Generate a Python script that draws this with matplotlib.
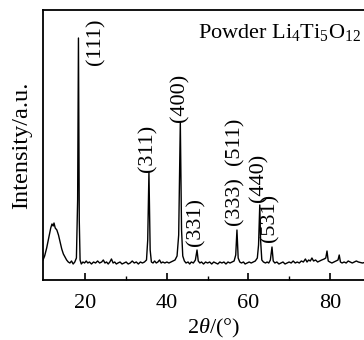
import matplotlib
matplotlib.use("Agg")
import matplotlib.pyplot as plt
from matplotlib.ticker import MultipleLocator, FixedLocator

plt.rcParams['font.family'] = ['Liberation Serif', 'DejaVu Serif']
plt.rcParams['mathtext.fontset'] = 'custom'
plt.rcParams['mathtext.rm'] = 'Liberation Serif'
plt.rcParams['mathtext.it'] = 'Liberation Serif:italic'

# XRD profile (2theta, intensity in arbitrary units)
two_theta = [9.6, 10.0, 10.5, 11.0, 11.5, 11.8, 12.1, 12.3, 12.6, 13.0, 13.4, 13.8, 14.2, 14.6, 15.0,
             15.4, 15.8, 16.2, 16.6, 17.0, 17.4, 17.8, 18.1, 18.3, 18.5, 18.7, 19.0, 19.4, 19.8, 20.2,
             20.6, 21.0, 21.5, 22.0, 22.5, 23.0, 23.5, 24.0, 24.4, 24.8, 25.2, 25.6, 26.0, 26.4, 26.8,
             27.2, 27.6, 28.0, 28.5, 29.0, 29.5, 30.0, 30.5, 31.0, 31.5, 32.0, 32.5, 33.0, 33.5, 34.0,
             34.5, 35.0, 35.3, 35.6, 35.9, 36.2, 36.6, 37.0, 37.4, 37.8, 38.2, 38.6, 39.0, 39.5, 40.0,
             40.5, 41.0, 41.5, 42.0, 42.5, 42.9, 43.3, 43.6, 43.9, 44.3, 44.7, 45.2, 45.6, 46.0, 46.5,
             47.0, 47.4, 47.7, 48.1, 48.5, 49.0, 49.5, 50.0, 50.5, 51.0, 51.5, 52.0, 52.5, 53.0, 53.5,
             54.0, 54.5, 55.0, 55.5, 56.0, 56.5, 56.9, 57.2, 57.5, 57.9, 58.3, 58.8, 59.2, 59.7, 60.2,
             60.7, 61.2, 61.7, 62.2, 62.5, 62.8, 63.0, 63.3, 63.7, 64.2, 64.6, 65.0, 65.4, 65.8, 66.1,
             66.5, 67.0, 67.5, 68.0, 68.5, 69.0, 69.5, 70.0, 70.5, 71.0, 71.5, 72.0, 72.5, 73.0, 73.5,
             74.0, 74.4, 74.8, 75.2, 75.6, 76.0, 76.5, 77.0, 77.5, 78.0, 78.6, 79.0, 79.3, 79.6, 80.0,
             80.5, 81.0, 81.5, 82.0, 82.3, 82.6, 83.0, 83.5, 84.0, 84.5, 85.0, 85.5, 86.0, 86.5, 87.0,
             88.0, 89.0, 90.0]
intensity = [20, 24, 32, 42, 52, 56, 54, 57, 52, 50, 45, 38, 31, 26, 23,
             20, 18, 17, 19, 16, 18, 22, 80, 242, 60, 20, 16, 18, 17, 19,
             17, 18, 16, 18, 17, 19, 17, 18, 20, 17, 18, 16, 18, 21, 17,
             18, 16, 17, 18, 16, 17, 18, 16, 17, 19, 17, 18, 16, 18, 17,
             18, 20, 40, 108, 30, 18, 17, 19, 17, 18, 20, 17, 18, 17, 18,
             17, 18, 19, 20, 24, 45, 158, 50, 24, 19, 17, 18, 16, 18, 17,
             20, 30, 19, 17, 18, 16, 18, 17, 18, 16, 18, 17, 16, 18, 17,
             18, 16, 18, 17, 18, 19, 25, 50, 22, 18, 17, 18, 16, 17, 18,
             17, 18, 19, 22, 35, 75, 40, 20, 18, 17, 18, 17, 20, 33, 19,
             17, 18, 16, 17, 18, 16, 17, 18, 17, 19, 17, 18, 17, 19, 18,
             21, 18, 20, 19, 22, 19, 20, 18, 19, 20, 21, 22, 29, 19, 18,
             17, 18, 19, 20, 25, 18, 17, 18, 17, 19, 18, 17, 18, 19, 18,
             17, 18, 17]

# Peak labels: (text, 2theta position, intensity position of label centre)
peak_labels = ['(111)', '(311)', '(400)', '(331)', '(333)', '(511)', '(440)', '(531)']
label_x = [22.6, 35.3, 43.3, 47.0, 56.7, 56.7, 62.6, 65.2]
label_y = [238, 132, 182, 58, 79, 139, 102, 62]
minor_ticks = [30, 50, 70]

fig = plt.figure(figsize=(3.64, 3.40), dpi=100)
ax = fig.add_axes([43/364, 60/340, 0.90, 270/340])

ax.plot(two_theta, intensity, color='black', lw=1.0)
for t, x, y in zip(peak_labels, label_x, label_y):
    ax.text(x, y, t, rotation=90, ha='center', va='center', fontsize=16)

ax.text(0.97, 0.955, 'Powder Li$_4$Ti$_5$O$_{12}$', transform=ax.transAxes,
        ha='right', va='top', fontsize=16)

ax.set_xlim(9.6, 90)
ax.set_ylim(0, 270)
ax.xaxis.set_major_locator(MultipleLocator(20))
ax.xaxis.set_minor_locator(FixedLocator(minor_ticks))
ax.tick_params(axis='x', which='major', direction='in', length=5, width=1.2, labelsize=16, pad=10)
ax.tick_params(axis='x', which='minor', direction='in', length=3, width=1.0)
ax.set_yticks([])
for s in ax.spines.values():
    s.set_linewidth(1.3)

ax.set_xlabel('2$\\theta$/(°)', fontsize=16)
ax.xaxis.set_label_coords(0.519, -0.138)
ax.set_ylabel('Intensity/a.u.', fontsize=17.5, labelpad=8)

fig.savefig('out.png', dpi=100)
